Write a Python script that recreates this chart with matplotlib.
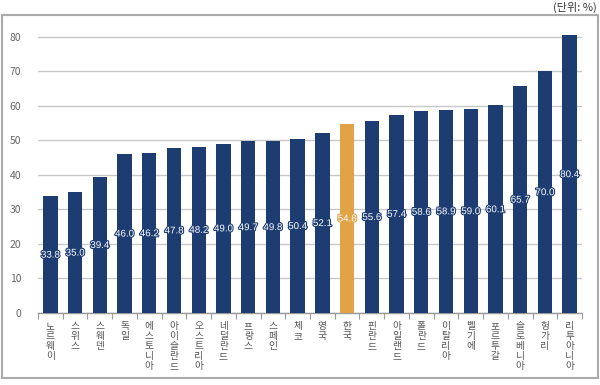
import matplotlib
matplotlib.use("Agg")
import matplotlib.pyplot as plt
import matplotlib.patheffects as pe
from matplotlib.patches import Rectangle

plt.rcParams['font.family'] = ['Noto Sans CJK KR', 'DejaVu Sans']

countries = ["노르웨이", "스위스", "스웨덴", "독일", "에스토니아", "아이슬란드", "오스트리아",
             "네덜란드", "프랑스", "스페인", "체코", "영국", "한국", "핀란드", "아일랜드",
             "폴란드", "이탈리아", "벨기에", "포르투갈", "슬로베니아", "헝가리", "리투아니아"]
values = [33.8, 35.0, 39.4, 46.0, 46.2, 47.8, 48.2, 49.0, 49.7, 49.8, 50.4, 52.1,
          54.8, 55.6, 57.4, 58.6, 58.9, 59.0, 60.1, 65.7, 70.0, 80.4]
highlight = "한국"

navy = "#1d3d72"
orange = "#e2a347"

fig = plt.figure(figsize=(6, 3.85), dpi=100)
ax = fig.add_axes([38 / 600, 72 / 385, 544 / 600, 297 / 385])

x = list(range(len(countries)))
colors = [orange if c == highlight else navy for c in countries]
ax.bar(x, values, width=0.58, color=colors, zorder=3)

for xi, v, col in zip(x, values, colors):
    ax.text(xi, v / 2, f"{v:.1f}", ha="center", va="center", color="white",
            fontsize=7, family="Liberation Sans", zorder=4,
            path_effects=[pe.withStroke(linewidth=1.6, foreground=col)])

ax.set_xlim(-0.5, len(countries) - 0.5)
ax.set_ylim(0, 86)
ax.set_yticks(range(0, 81, 10))
ax.yaxis.grid(True, color="#c8c8c8", linewidth=1, zorder=0)
ax.tick_params(axis="y", length=0, pad=12, labelsize=7.5, labelcolor="#666666")

ax.set_xticks(x)
ax.set_xticklabels(["\n".join(c) for c in countries], fontsize=7, color="#555555",
                   va="top", linespacing=1.0)
ax.tick_params(axis="x", which="major", length=0, pad=6)
ax.set_xticks([i - 0.5 for i in range(len(countries) + 1)], minor=True)
ax.tick_params(axis="x", which="minor", length=4, color="#999999", width=0.8)

for s in ["top", "right", "left"]:
    ax.spines[s].set_visible(False)
ax.spines["bottom"].set_color("#999999")
ax.spines["bottom"].set_linewidth(1)

fig.patches.append(Rectangle((2 / 600, 7 / 385), 596 / 600, 363 / 385, transform=fig.transFigure,
                             fill=False, edgecolor="#aaaaaa", linewidth=1.5))
fig.text(597 / 600, 378 / 385, "(단위: %)", ha="right", va="center", fontsize=8, color="#333333")

fig.savefig("out.png", dpi=100)
